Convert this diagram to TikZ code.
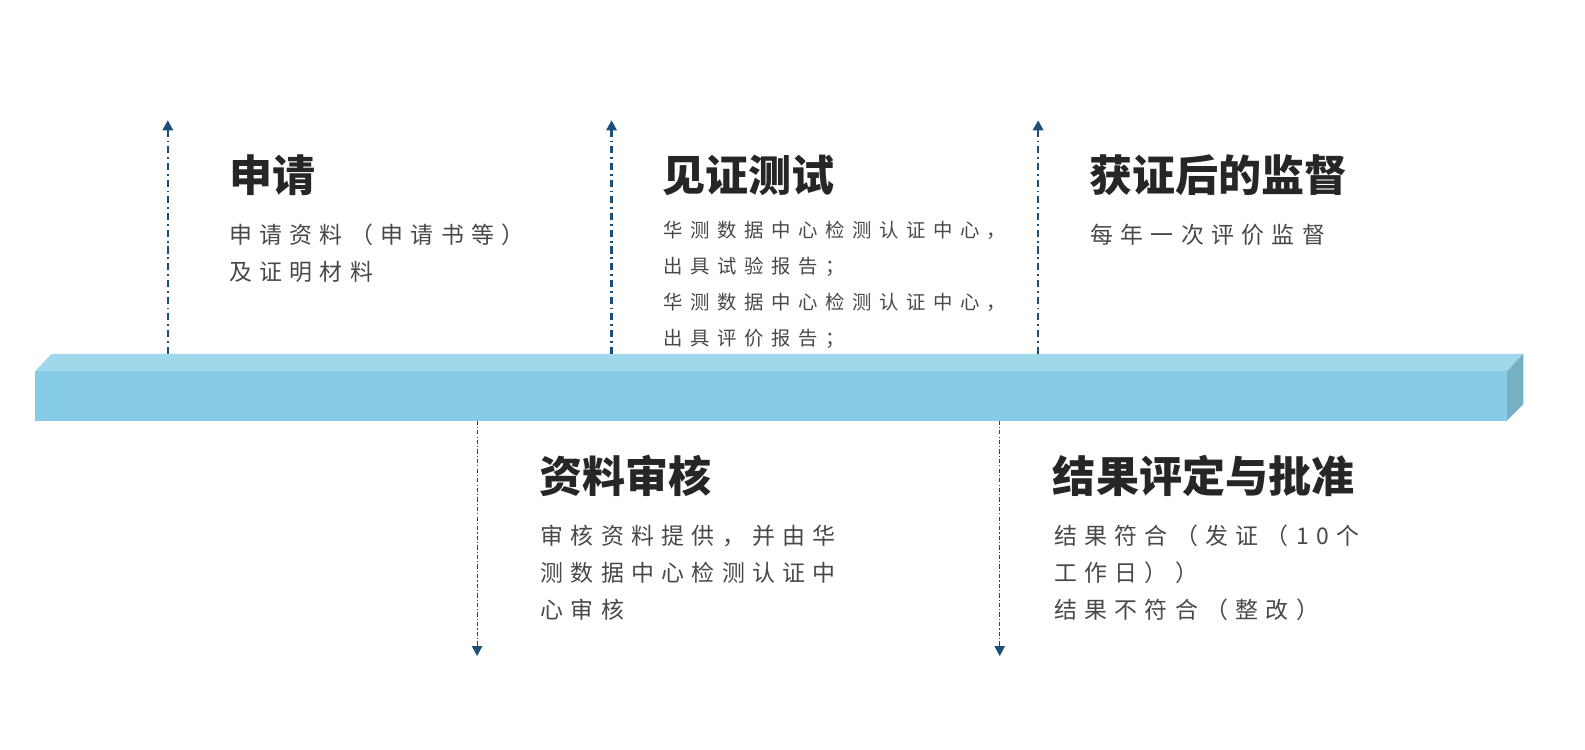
\documentclass[tikz,border=0pt]{standalone}
\usepackage{fontspec}
\usepackage{tikz}
\usetikzlibrary{arrows.meta}
\newfontfamily\cjkhead{Noto Sans CJK SC}
\newfontfamily\cjkbody[LetterSpace=32]{Noto Sans CJK SC}
\definecolor{barfront}{HTML}{87CCE6}
\definecolor{bartop}{HTML}{9FD7EB}
\definecolor{barside}{HTML}{77B0C5}
\definecolor{arrowblue}{HTML}{1B4F7A}
\definecolor{headgray}{HTML}{262626}
\definecolor{bodygray}{HTML}{484848}

\begin{document}
\begin{tikzpicture}[x=0.01cm,y=-0.01cm,
    upline/.style={arrowblue,line width=0.6pt,dash pattern=on 2pt off 1.1pt on 0.5pt off 1.1pt,-{Triangle[width=2.9pt,length=2.8pt]}},
    downline/.style={arrowblue,line width=0.3pt,dash pattern=on 1.2pt off 0.6pt on 0.3pt off 0.6pt,-{Triangle[width=2.9pt,length=2.8pt]}},
    headtext/.style={anchor=west,inner sep=0pt,text=headgray,font=\cjkhead\bfseries\fontsize{12.1pt}{14pt}\selectfont},
    bodytext/.style={anchor=north west,inner sep=0pt,align=left,text=bodygray,font=\cjkbody\fontsize{6.45pt}{10.4pt}\selectfont}]
        \useasboundingbox (0,0) rectangle (1568,741);

        \fill[barfront] (35,367) rectangle (1491,416);
        \fill[bartop] (35,367) -- (51,350) -- (1507,350) -- (1491,367) -- cycle;
        \fill[barside] (1491,367) -- (1507,350) -- (1507,400) -- (1491,416) -- cycle;

        \coordinate (S1) at (166,350);
        \coordinate (T1) at (166,119);
        \coordinate (S2) at (605,350);
        \coordinate (T2) at (605,119);
        \coordinate (S3) at (1027,350);
        \coordinate (T3) at (1027,119);
        \coordinate (S4) at (472,416);
        \coordinate (T4) at (472,649);
        \coordinate (S5) at (989,416);
        \coordinate (T5) at (989,649);

        \draw[upline] (S1) -- (T1);
        \draw[upline] (S2) -- (T2);
        \draw[upline] (S3) -- (T3);
        \draw[downline] (S4) -- (T4);
        \draw[downline] (S5) -- (T5);

        \node[headtext] (H1) at (226,173) {申请};
        \node[bodytext] (B1) at (226,221) {申请资料（申请书等）\\及证明材料};
        \node[headtext] (H2) at (655,173) {见证测试};
        \node[bodytext,font=\cjkbody\addfontfeature{LetterSpace=39}\fontsize{5.45pt}{10.1pt}\selectfont] (B2) at (656,218) {华测数据中心检测认证中心，\\出具试验报告；\\华测数据中心检测认证中心，\\出具评价报告；};
        \node[headtext] (H3) at (1077,173) {获证后的监督};
        \node[bodytext] (B3) at (1078,221) {每年一次评价监督};
        \node[headtext] (H4) at (533,471) {资料审核};
        \node[bodytext] (B4) at (534,519) {审核资料提供，并由华\\测数据中心检测认证中\\心审核};
        \node[headtext] (H5) at (1041,471) {结果评定与批准};
        \node[bodytext] (B5) at (1042,519) {结果符合（发证（10个\\工作日））\\结果不符合（整改）};
      \end{tikzpicture}
\end{document}
